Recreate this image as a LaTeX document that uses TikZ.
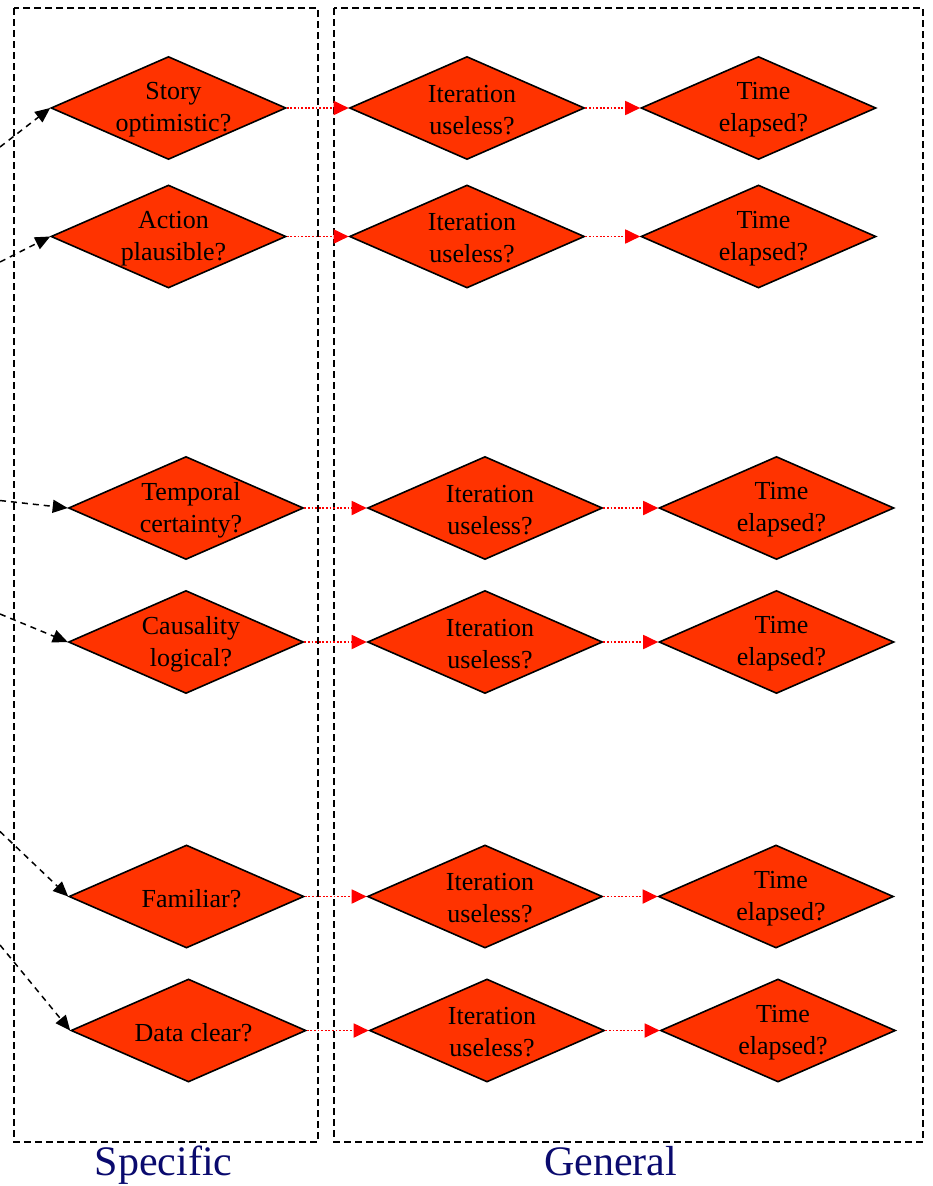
\documentclass[tikz,border=0pt]{standalone}
\usepackage{fontspec}
\setmainfont{Liberation Serif}
\usetikzlibrary{shapes.geometric,arrows.meta}
\definecolor{dfill}{RGB}{255,51,0}
\definecolor{navyblue}{RGB}{10,10,110}
\begin{document}
\begin{tikzpicture}[x=1pt,y=-1pt,
  dia/.style={diamond, draw=black, line width=1.6pt, fill=dfill,
    minimum width=235pt, minimum height=103pt, inner sep=0pt, aspect=2.28},
  qtext/.style={align=center, font=\fontsize{26}{32}\selectfont, xshift=5pt, yshift=-2pt},
  boxline/.style={draw=black, line width=1.5pt, dash pattern=on 7pt off 4pt},
  inarrow/.style={draw=black, line width=1.5pt, dash pattern=on 6pt off 5pt,
    -{Triangle[length=15pt,width=13pt]}},
  redarrow/.style={draw=red, line width=1.8pt, dash pattern=on 1.8pt off 1.8pt,
    -{Triangle[length=15pt,width=14pt]}},
  grouplabel/.style={font=\fontsize{42}{50}\selectfont, text=navyblue, anchor=base}]
\useasboundingbox (0,0) rectangle (932,1186);

% group boxes
\draw[boxline] (14,8) rectangle (318,1142);
\draw[boxline] (334,8) rectangle (923,1142);

% row 1
\node[dia, label={[qtext]center:{Story\\optimistic?}}] (a1) at (168.5,108) {};
\node[dia, label={[qtext]center:{Iteration\\useless?}}] (a2) at (467,108) {};
\node[dia, label={[qtext]center:{Time\\elapsed?}}] (a3) at (758.5,108) {};
% row 2
\node[dia, label={[qtext]center:{Action\\plausible?}}] (b1) at (168.5,236.5) {};
\node[dia, label={[qtext]center:{Iteration\\useless?}}] (b2) at (467,236.5) {};
\node[dia, label={[qtext]center:{Time\\elapsed?}}] (b3) at (758.5,236.5) {};
% row 3
\node[dia, label={[qtext]center:{Temporal\\certainty?}}] (c1) at (186,508) {};
\node[dia, label={[qtext]center:{Iteration\\useless?}}] (c2) at (485,508) {};
\node[dia, label={[qtext]center:{Time\\elapsed?}}] (c3) at (776.5,508) {};
% row 4
\node[dia, label={[qtext]center:{Causality\\logical?}}] (d1) at (186,642) {};
\node[dia, label={[qtext]center:{Iteration\\useless?}}] (d2) at (485,642) {};
\node[dia, label={[qtext]center:{Time\\elapsed?}}] (d3) at (776.5,642) {};
% row 5
\node[dia, label={[qtext]center:{Familiar?}}] (e1) at (186.5,896.5) {};
\node[dia, label={[qtext]center:{Iteration\\useless?}}] (e2) at (485,896.5) {};
\node[dia, label={[qtext]center:{Time\\elapsed?}}] (e3) at (776,896.5) {};
% row 6
\node[dia, label={[qtext]center:{Data clear?}}] (f1) at (188.5,1030.5) {};
\node[dia, label={[qtext]center:{Iteration\\useless?}}] (f2) at (487,1030.5) {};
\node[dia, label={[qtext]center:{Time\\elapsed?}}] (f3) at (778,1030.5) {};

% incoming dashed arrows (from outside the picture)
\coordinate (ia) at (0,147);
\coordinate (ib) at (0,262);
\coordinate (ic) at (0,500.5);
\coordinate (id) at (0,614);
\coordinate (ie) at (0,831.5);
\coordinate (if) at (0,945);
\draw[inarrow] (ia) -- (a1.west);
\draw[inarrow] (ib) -- (b1.west);
\draw[inarrow] (ic) -- (c1.west);
\draw[inarrow] (id) -- (d1.west);
\draw[inarrow] (ie) -- (e1.west);
\draw[inarrow] (if) -- (f1.west);

% red dotted arrows
\foreach \r in {a,b,c,d,e,f}{
  \draw[redarrow] (\r1.east) -- (\r2.west);
  \draw[redarrow] (\r2.east) -- (\r3.west);
}

% group labels
\node[grouplabel] (lspec) at (163.5,1175) {Specific};
\node[grouplabel] (lgen) at (610.5,1175) {General};
\end{tikzpicture}
\end{document}
